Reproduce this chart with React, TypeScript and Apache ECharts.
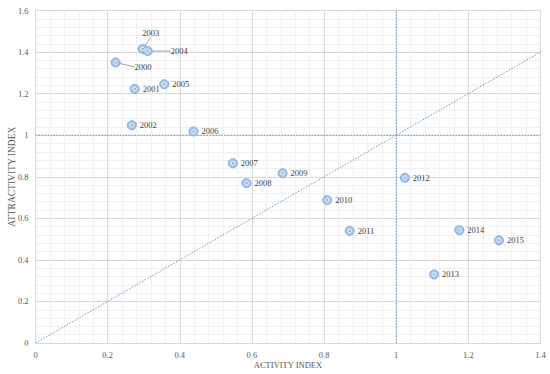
import React, { useEffect, useRef } from "react";
import * as echarts from "echarts";

const years = ["2000","2001","2002","2003","2004","2005","2006","2007","2008","2009","2010","2011","2012","2013","2014","2015"];
const activityIndex = [0.222,0.275,0.267,0.297,0.311,0.357,0.438,0.547,0.585,0.685,0.809,0.871,1.024,1.105,1.175,1.285];
const attractivityIndex = [1.35,1.223,1.048,1.415,1.405,1.245,1.018,0.865,0.769,0.817,0.688,0.540,0.795,0.330,0.543,0.494];
const leaderYears = ["2000","2003","2004"];
const xTicks = { min: 0, max: 1.4, interval: 0.2 };
const yTicks = { min: 0, max: 1.6, interval: 0.2 };
const diagonal = [[0, 0], [1.4, 1.4]];
const horizontalRef = [[0, 1], [1.4, 1]];
const verticalRef = [[1, 0], [1, 1.6]];

const FONT = "Liberation Serif, Times New Roman, serif";

export default function App() {
  const ref = useRef<HTMLDivElement>(null);
  useEffect(() => {
    if (!ref.current) return;
    const chart = echarts.init(ref.current, undefined, { renderer: "svg" });
    const plain: any[] = [];
    const leader: any[] = [];
    years.forEach((y, i) => {
      const item = { name: y, value: [activityIndex[i], attractivityIndex[i]] };
      if (leaderYears.includes(y)) leader.push(item);
      else plain.push(item);
    });
    const all = years.map((y, i) => ({ name: y, value: [activityIndex[i], attractivityIndex[i]] }));
    const labelStyle = {
      show: true,
      formatter: "{b}",
      fontFamily: FONT,
      fontSize: 8.5,
      color: "#404040",
    };
    const outer = {
      symbol: "circle",
      symbolSize: 9,
      itemStyle: { color: "#a9c7ea", borderColor: "#7fa9dc", borderWidth: 1, opacity: 1 },
    };
    // label offset from the marker centre: [dx, dy, align]
    const offsets: Record<string, [number, number, string]> = {
      "2000": [19, 4.5, "left"],
      "2003": [8, -16, "center"],
      "2004": [23, 0, "left"],
    };
    const refLine = { color: "#5b9bd5", width: 1, type: [1.5, 1.5] as any };
    const refSeries = (data: number[][]) => ({
      type: "line",
      data,
      showSymbol: false,
      symbol: "none",
      silent: true,
      itemStyle: { color: "#5b9bd5" },
      lineStyle: refLine,
      z: 2,
    });
    const axisCommon = {
      type: "value",
      nameLocation: "middle",
      nameMoveOverlap: false,
      axisLine: { show: true, lineStyle: { color: "#d9d9d9" } },
      axisTick: { show: false },
      axisLabel: { fontFamily: FONT, fontSize: 8.5, color: "#595959", margin: 7, formatter: (v: number) => String(+v.toFixed(1)) },
      splitLine: { show: true, lineStyle: { color: "#d9d9d9", width: 1 } },
      minorTick: { show: false, splitNumber: 5 },
      minorSplitLine: { show: true, lineStyle: { color: "#f0f0f0", width: 1 } },
    };
    const option: any = {
      animation: false,
      grid: { left: 35.5, right: 9.5, top: 10.5, bottom: 31, containLabel: false, outerBoundsMode: "none" },
      xAxis: {
        ...axisCommon,
        min: xTicks.min,
        max: xTicks.max,
        interval: xTicks.interval,
        name: "ACTIVITY INDEX",
        nameGap: 17,
        nameTextStyle: { fontFamily: FONT, fontSize: 8.5, color: "#595959" },
      },
      yAxis: {
        ...axisCommon,
        min: yTicks.min,
        max: yTicks.max,
        interval: yTicks.interval,
        name: "ATTRACTIVITY INDEX",
        nameGap: 19,
        nameTextStyle: { fontFamily: FONT, fontSize: 9.5, color: "#595959" },
      },
      series: [
        refSeries(diagonal),
        refSeries(horizontalRef),
        refSeries(verticalRef),
        {
          type: "scatter",
          data: plain,
          ...outer,
          label: { ...labelStyle, position: "right", distance: 3 },
          z: 3,
        },
        {
          type: "scatter",
          data: leader,
          ...outer,
          label: { ...labelStyle, position: "right", distance: 3 },
          labelLine: { show: true, lineStyle: { color: "#8c8c8c", width: 0.8 } },
          labelLayout: (params: any) => {
            const o = offsets[leader[params.dataIndex].name];
            const r = params.rect;
            const cx = r.x + r.width / 2;
            const cy = r.y + r.height / 2;
            return { x: cx + o[0], y: cy + o[1], align: o[2], verticalAlign: "middle" };
          },
          z: 3,
        },
        {
          type: "scatter",
          data: all,
          symbol: "circle",
          symbolSize: 3.5,
          itemStyle: { color: "#8db3e2", borderColor: "#ffffff", borderWidth: 1, opacity: 1 },
          silent: true,
          z: 4,
        },
      ],
    };
    chart.setOption(option);
    return () => chart.dispose();
  }, []);
  return <div ref={ref} style={{ position: "absolute", left: 0, top: 0, width: 550, height: 374 }} />;
}
